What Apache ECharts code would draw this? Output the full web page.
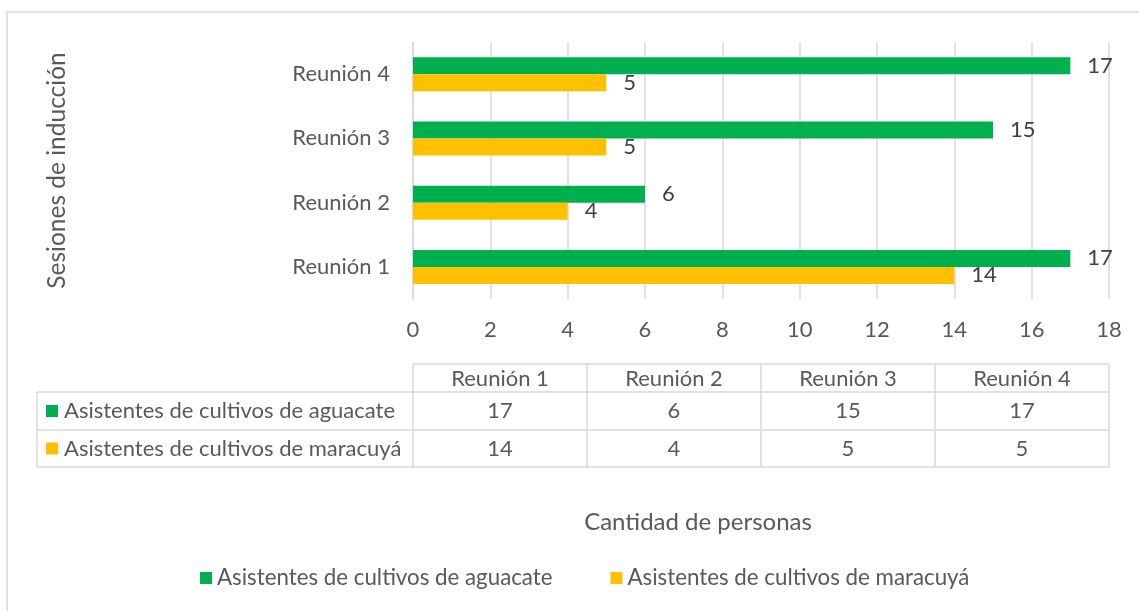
<!DOCTYPE html>
<html>
<head>
<meta charset="utf-8">
<script src="https://cdn.jsdelivr.net/npm/echarts@6/dist/echarts.min.js"></script>
<style>
html,body{margin:0;padding:0;background:#fff;}
#main{width:1139px;height:611px;}
</style>
</head>
<body>
<div id="main"></div>
<script>
// ---- data ----
const categories = ['Reunión 1', 'Reunión 2', 'Reunión 3', 'Reunión 4'];
const seriesNames = ['Asistentes de cultivos de aguacate', 'Asistentes de cultivos de maracuyá'];
const aguacate = [17, 6, 15, 17];
const maracuya = [14, 4, 5, 5];
const xTicks = [0, 2, 4, 6, 8, 10, 12, 14, 16, 18];
const xTitle = 'Cantidad de personas';
const yTitle = 'Sesiones de inducción';

// ---- style ----
const FONT = 'Lato';
const FS = 22;
const GRAY = '#595959';
const LINE = '#d9d9d9';
const COLORS = ['#00B050', '#FFC000'];
const gridLeft = 413, gridRight = 1109, gridTop = 42, gridBottom = 299;

const chart = echarts.init(document.getElementById('main'));

function buildTable() {
  const els = [];
  const colW = (gridRight - gridLeft) / categories.length;
  const rows = [364, 392, 430, 467];
  const tableLeft = 37;
  const ls = {stroke: LINE, lineWidth: 1.5};
  els.push({type: 'line', shape: {x1: gridLeft, y1: rows[0], x2: gridRight, y2: rows[0]}, style: ls, silent: true});
  for (let i = 1; i < rows.length; i++) {
    els.push({type: 'line', shape: {x1: tableLeft, y1: rows[i], x2: gridRight, y2: rows[i]}, style: ls, silent: true});
  }
  els.push({type: 'line', shape: {x1: tableLeft, y1: rows[1], x2: tableLeft, y2: rows[3]}, style: ls, silent: true});
  for (let c = 0; c <= categories.length; c++) {
    const x = gridLeft + c * colW;
    els.push({type: 'line', shape: {x1: x, y1: rows[0], x2: x, y2: rows[3]}, style: ls, silent: true});
  }
  const txt = (x, y, t, align) => ({type: 'text', x: x, y: y, silent: true,
    style: {text: t, fill: GRAY, font: FS + 'px ' + FONT, textAlign: align || 'center', textVerticalAlign: 'middle'}});
  categories.forEach((c, i) => els.push(txt(gridLeft + (i + 0.5) * colW, (rows[0] + rows[1]) / 2 + 1, c)));
  const data = [aguacate, maracuya];
  data.forEach((arr, r) => {
    const yc = (rows[r + 1] + rows[r + 2]) / 2;
    els.push({type: 'rect', shape: {x: 46, y: yc - 6, width: 12, height: 12}, style: {fill: COLORS[r]}, silent: true});
    els.push(txt(64, yc, seriesNames[r], 'left'));
    arr.forEach((v, i) => els.push(txt(gridLeft + (i + 0.5) * colW, yc, String(v))));
  });
  els.push({type: 'rect', shape: {x: 7, y: 12, width: 1200, height: 700}, style: {fill: 'none', stroke: LINE, lineWidth: 1.5}, silent: true});
  els.push({type: 'text', x: 698, y: 522, silent: true,
    style: {text: xTitle, fill: GRAY, font: '24px ' + FONT, textAlign: 'center', textVerticalAlign: 'middle'}});
  return els;
}

const labelStyle = {show: true, position: 'right', distance: 17, color: '#404040', fontSize: FS, fontFamily: FONT};

chart.setOption({
  animation: false,
  textStyle: {fontFamily: FONT},
  grid: {left: gridLeft, top: gridTop, width: gridRight - gridLeft, height: gridBottom - gridTop, containLabel: false, outerBoundsMode: 'none'},
  legend: {
    data: seriesNames,
    left: 200, top: 567, padding: 0,
    icon: 'rect', itemWidth: 12, itemHeight: 12, itemGap: 58,
    textStyle: {color: GRAY, fontSize: 22.3, fontFamily: FONT}
  },
  xAxis: {
    type: 'value', min: xTicks[0], max: xTicks[xTicks.length - 1], interval: xTicks[1] - xTicks[0],
    axisLine: {show: false}, axisTick: {show: false},
    splitLine: {lineStyle: {color: LINE, width: 1.5}},
    axisLabel: {color: GRAY, fontSize: FS, fontFamily: FONT, margin: 20}
  },
  yAxis: {
    type: 'category', data: categories,
    axisLine: {show: true, lineStyle: {color: LINE, width: 1.5}},
    axisTick: {show: false},
    axisLabel: {color: GRAY, fontSize: FS, fontFamily: FONT, margin: 23},
    name: yTitle, nameLocation: 'middle', nameRotate: 90, nameGap: 343,
    nameTextStyle: {color: GRAY, fontSize: 24.5, fontFamily: FONT}
  },
  series: [
    {name: seriesNames[0], type: 'bar', data: aguacate, barWidth: 17, barGap: '0%', itemStyle: {color: COLORS[0]}, label: labelStyle},
    {name: seriesNames[1], type: 'bar', data: maracuya, barWidth: 17, barGap: '0%', itemStyle: {color: COLORS[1]}, label: labelStyle}
  ],
  graphic: {elements: buildTable()}
});
</script>
</body>
</html>
